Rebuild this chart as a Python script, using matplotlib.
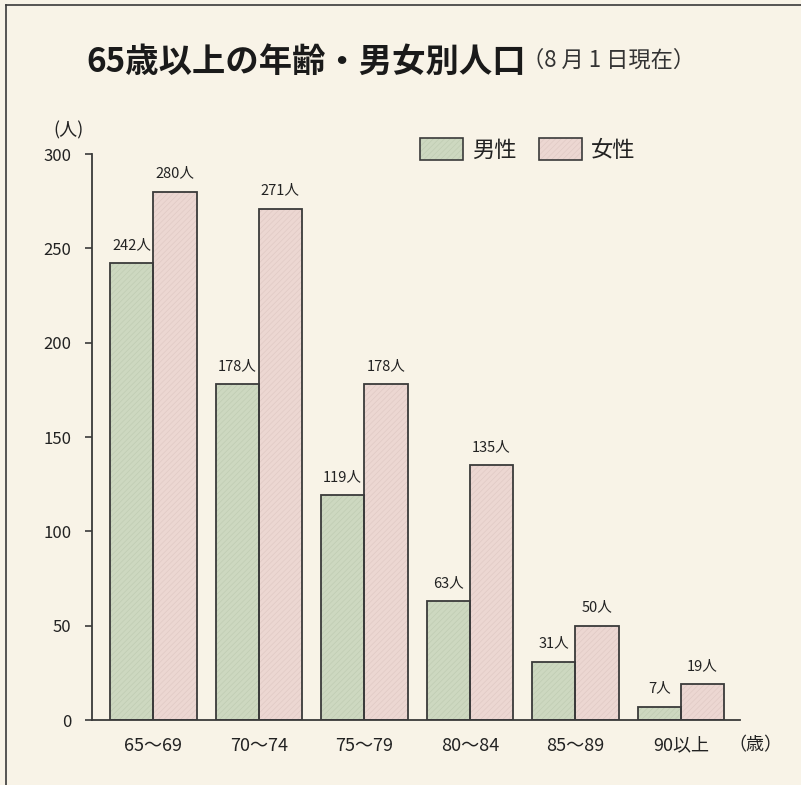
import matplotlib
matplotlib.use("Agg")
import matplotlib.pyplot as plt
import numpy as np
from matplotlib.patches import Patch
from matplotlib.lines import Line2D

plt.rcParams['font.family'] = ['Noto Sans CJK JP', 'DejaVu Sans']
plt.rcParams['hatch.linewidth'] = 0.5

categories = ["65～69", "70～74", "75～79", "80～84", "85～89", "90以上"]
male = [242, 178, 119, 63, 31, 7]
female = [280, 271, 178, 135, 50, 19]
yticks = [0, 50, 100, 150, 200, 250, 300]

bg = "#f8f3e7"
male_c = "#cdd8c0"
female_c = "#ecd7d2"
male_h = "#c0ccb3"
female_h = "#e0cac5"
edge = "#3a3a3a"

fig = plt.figure(figsize=(8.01, 7.85), dpi=100, facecolor=bg)
ax = fig.add_axes([0.1149, 0.0828, 0.809, 0.7210])
ax.set_facecolor(bg)

x = np.arange(len(categories))
w = 0.41

# fill with fine hatch
ax.bar(x - w/2, male, w, color=male_c, edgecolor=male_h, hatch="//////", linewidth=0, zorder=2)
ax.bar(x + w/2, female, w, color=female_c, edgecolor=female_h, hatch="//////", linewidth=0, zorder=2)
# outlines
ax.bar(x - w/2, male, w, fill=False, edgecolor=edge, linewidth=1.3, zorder=3)
ax.bar(x + w/2, female, w, fill=False, edgecolor=edge, linewidth=1.3, zorder=3)

for xi, v in zip(x, male):
    ax.text(xi - w/2, v + 6, f"{v}人", ha="center", va="bottom", fontsize=10.5, color="#222222")
for xi, v in zip(x, female):
    ax.text(xi + w/2, v + 6, f"{v}人", ha="center", va="bottom", fontsize=10.5, color="#222222")

ax.set_xlim(-0.58, 5.56)
ax.set_ylim(0, 300)
ax.set_yticks(yticks)
ax.set_yticklabels([str(t) for t in yticks], fontsize=12, color="#222222")
ax.set_xticks(x)
ax.set_xticklabels(categories, fontsize=13, color="#222222")
ax.tick_params(axis="x", length=0, pad=12)
ax.tick_params(axis="y", direction="out", length=5, width=1.2, pad=10, color=edge)
for s in ["top", "right"]:
    ax.spines[s].set_visible(False)
for s in ["left", "bottom"]:
    ax.spines[s].set_color(edge)
    ax.spines[s].set_linewidth(1.3)

handles = [(Patch(facecolor=male_c, edgecolor=male_h, hatch="//////", linewidth=0),
            Patch(fill=False, edgecolor=edge, linewidth=1.2)),
           (Patch(facecolor=female_c, edgecolor=female_h, hatch="//////", linewidth=0),
            Patch(fill=False, edgecolor=edge, linewidth=1.2))]
leg = fig.legend(handles, ["男性", "女性"], loc="center left", bbox_to_anchor=(0.499, 0.809),
                 ncol=2, frameon=False, fontsize=16, handlelength=1.95, handleheight=1.1,
                 handletextpad=0.4, columnspacing=1.0)
for t in leg.get_texts():
    t.set_color("#222222")

fig.text(0.108, 0.921, "65歳以上の年齢・男女別人口", fontsize=24, fontweight="bold",
         ha="left", va="center", color="#1a1a1a")
fig.text(0.652, 0.923, "（8 月 1 日現在）", fontsize=16, ha="left", va="center", color="#333333")
fig.text(0.085, 0.834, "(人)", fontsize=13, ha="center", va="center", color="#222222")
fig.text(0.943, 0.051, "（歳）", fontsize=13, ha="center", va="center", color="#222222")

# frame lines (left and top)
fig.add_artist(Line2D([0.008, 0.008], [0.0, 0.994], transform=fig.transFigure, color=edge, linewidth=1.2))
fig.add_artist(Line2D([0.008, 1.0], [0.994, 0.994], transform=fig.transFigure, color=edge, linewidth=1.2))

fig.savefig("out.png", dpi=100, facecolor=bg)
